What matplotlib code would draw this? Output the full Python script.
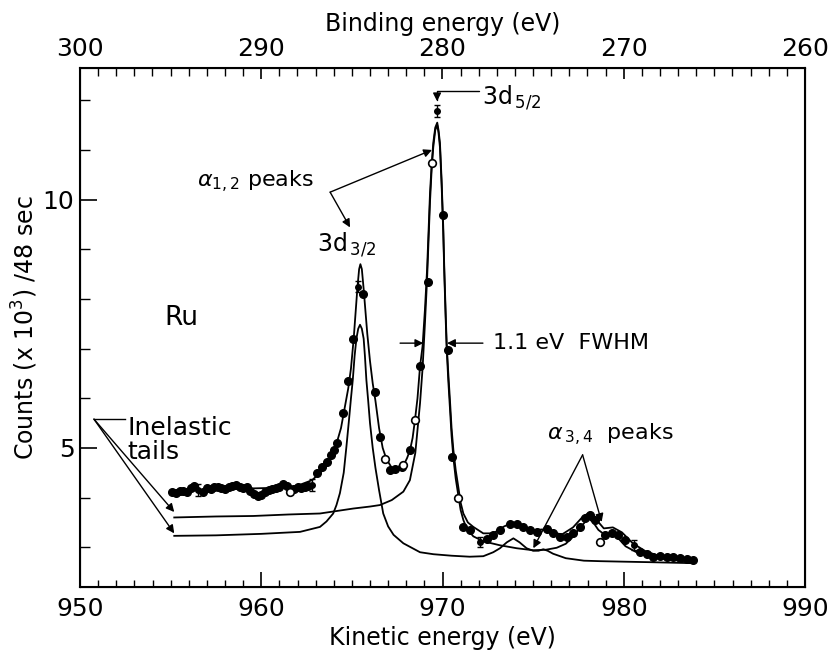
import matplotlib
matplotlib.use("Agg")
import matplotlib.pyplot as plt
from matplotlib.ticker import MultipleLocator

plt.rcParams['font.family'] = ['DejaVu Sans']
plt.rcParams['mathtext.fontset'] = 'dejavusans'

# measured points (filled circles)
ke_dots = [955.1, 955.3, 955.5, 955.7, 955.9, 956.1, 956.3, 956.8, 957.0, 957.2,
           957.4, 957.6, 957.8, 958.0, 958.2, 958.4, 958.6, 958.8, 959.0, 959.2,
           959.4, 959.6, 959.8, 960.0, 960.2, 960.4, 960.6, 960.8, 961.0, 961.2,
           961.4, 961.8, 962.0, 962.2, 962.4, 962.6, 963.1, 963.35, 963.6, 963.85,
           964.0, 964.2, 964.5, 964.8, 965.05, 965.6, 966.28, 966.55, 967.1, 967.38,
           967.75, 968.21, 968.76, 969.18, 970.01, 970.32, 970.51, 971.15, 971.52, 972.44,
           972.8, 973.17, 973.72, 974.09, 974.46, 974.83, 975.2, 975.75, 976.12, 976.49,
           976.86, 977.22, 977.59, 977.87, 978.14, 978.42, 978.97, 979.34, 979.71, 980.08,
           980.9, 981.27, 981.64, 982.0, 982.37, 982.74, 983.1, 983.47, 983.84]
cnt_dots = [4.12, 4.10, 4.13, 4.14, 4.12, 4.20, 4.24, 4.12, 4.20, 4.18,
            4.21, 4.22, 4.20, 4.18, 4.22, 4.24, 4.25, 4.22, 4.19, 4.21,
            4.14, 4.08, 4.03, 4.06, 4.12, 4.15, 4.18, 4.20, 4.22, 4.27,
            4.24, 4.18, 4.22, 4.19, 4.21, 4.24, 4.50, 4.62, 4.72, 4.85,
            4.96, 5.10, 5.70, 6.35, 7.20, 8.10, 6.13, 5.23, 4.56, 4.57,
            4.61, 4.96, 6.64, 8.35, 9.70, 6.98, 4.82, 3.41, 3.34, 3.17,
            3.24, 3.34, 3.47, 3.46, 3.41, 3.34, 3.31, 3.36, 3.28, 3.21,
            3.20, 3.28, 3.41, 3.58, 3.65, 3.55, 3.24, 3.28, 3.24, 3.14,
            2.91, 2.87, 2.81, 2.82, 2.81, 2.80, 2.78, 2.76, 2.75]

# open circles
ke_open = [961.6, 966.83, 967.84, 968.48, 969.44, 970.88, 978.7]
cnt_open = [4.12, 4.78, 4.66, 5.56, 10.74, 3.99, 3.11]

# points drawn with error bars
ke_err = [956.5, 962.8, 965.35, 969.71, 972.07, 980.54]
cnt_err = [4.16, 4.26, 8.25, 11.78, 3.10, 3.04]
err = [0.12, 0.12, 0.12, 0.12, 0.10, 0.10]

# fitted sum
ke_fit = [955.2, 957.0, 959.0, 961.0, 962.0, 962.8, 963.4, 963.8, 964.1, 964.4,
          964.6, 964.8, 964.95, 965.1, 965.2, 965.3, 965.4, 965.47, 965.55, 965.65,
          965.75, 965.85, 966.0, 966.15, 966.3, 966.5, 966.7, 966.9, 967.2, 967.5,
          967.84, 968.05, 968.21, 968.35, 968.48, 968.62, 968.76, 968.9, 969.03, 969.15,
          969.31, 969.4, 969.49, 969.6, 969.71, 969.78, 969.86, 969.95, 970.04, 970.1,
          970.17, 970.23, 970.32, 970.41, 970.5, 970.6, 970.73, 970.87, 971.0, 971.15,
          971.4, 971.7, 972.25, 972.8, 973.4, 973.9, 974.4, 974.9, 975.5, 976.0,
          976.6, 977.2, 977.7, 978.1, 978.5, 978.9, 979.4, 979.9, 980.5, 981.2,
          982.0, 983.0, 983.9]
cnt_fit = [4.12, 4.16, 4.18, 4.20, 4.24, 4.35, 4.55, 4.78, 5.02, 5.40,
           5.80, 6.20, 6.60, 7.20, 7.70, 8.20, 8.60, 8.70, 8.60, 8.20,
           7.75, 7.30, 6.75, 6.30, 5.95, 5.40, 5.00, 4.78, 4.60, 4.56,
           4.64, 4.80, 4.96, 5.20, 5.56, 6.00, 6.64, 7.05, 7.78, 8.60,
           10.13, 10.70, 11.14, 11.45, 11.55, 11.40, 11.14, 10.40, 9.46, 8.60,
           7.78, 7.11, 6.50, 5.97, 5.40, 4.96, 4.55, 4.22, 3.90, 3.68,
           3.50, 3.41, 3.28, 3.28, 3.42, 3.50, 3.42, 3.33, 3.36, 3.30,
           3.26, 3.40, 3.60, 3.70, 3.55, 3.38, 3.40, 3.30, 3.08, 2.92,
           2.82, 2.76, 2.73]

# 3d5/2 line with its inelastic tail
ke_d52 = [955.2, 957.5, 959.56, 961.5, 963.24, 965.08, 966.0, 966.55, 967.2, 967.84,
          968.2, 968.5, 968.76, 968.9, 969.03, 969.15, 969.31, 969.4, 969.49, 969.6,
          969.71, 969.78, 969.86, 969.95, 970.04, 970.1, 970.17, 970.23, 970.32, 970.41,
          970.5, 970.6, 970.73, 970.87, 971.0, 971.15, 971.33, 971.7, 972.25, 973.17,
          974.1, 975.0, 975.7, 976.3, 976.8, 977.2, 977.6, 978.04, 978.3, 978.6,
          978.85, 979.1, 979.4, 979.7, 980.1, 980.7, 981.4, 982.5, 983.8]
cnt_d52 = [3.60, 3.62, 3.63, 3.66, 3.68, 3.78, 3.82, 3.85, 3.95, 4.12,
           4.35, 4.90, 5.90, 6.60, 7.50, 8.40, 9.95, 10.60, 11.05, 11.40,
           11.50, 11.35, 11.05, 10.30, 9.35, 8.50, 7.65, 7.00, 6.35, 5.80,
           5.25, 4.80, 4.38, 4.05, 3.75, 3.55, 3.38, 3.22, 3.12, 3.04,
           2.98, 2.94, 2.95, 2.99, 3.07, 3.21, 3.40, 3.58, 3.51, 3.35,
           3.28, 3.24, 3.25, 3.18, 3.02, 2.90, 2.82, 2.75, 2.71]

# 3d3/2 line with its inelastic tail
ke_d32 = [955.2, 957.5, 960.0, 962.14, 963.24, 963.6, 963.97, 964.15, 964.34, 964.55,
          964.7, 964.85, 964.95, 965.05, 965.15, 965.25, 965.35, 965.45, 965.55, 965.65,
          965.72, 965.8, 965.9, 966.0, 966.15, 966.3, 966.5, 966.73, 967.0, 967.3,
          967.84, 968.76, 969.5, 970.5, 971.5, 972.25, 972.8, 973.17, 973.55, 973.91,
          974.25, 974.64, 975.0, 975.3, 975.56, 975.8, 976.1, 976.8, 977.8, 978.7,
          980.0, 981.4, 983.8]
cnt_d32 = [3.23, 3.24, 3.27, 3.31, 3.41, 3.52, 3.68, 3.85, 4.09, 4.50,
           5.03, 5.60, 6.00, 6.37, 6.85, 7.20, 7.40, 7.48, 7.40, 7.20,
           6.85, 6.37, 5.95, 5.50, 5.00, 4.60, 4.15, 3.68, 3.42, 3.25,
           3.08, 2.90, 2.86, 2.83, 2.81, 2.82, 2.90, 2.98, 3.10, 3.18,
           3.10, 2.98, 2.93, 2.93, 2.96, 2.93, 2.87, 2.78, 2.73, 2.72,
           2.71, 2.70, 2.68]

fig = plt.figure(figsize=(8.33, 6.59), dpi=100)
ax = fig.add_axes([80 / 833, 1 - 587 / 659, 725 / 833, 519 / 659])

lw = 1.3
ax.plot(ke_d32, cnt_d32, color='black', lw=lw)
ax.plot(ke_d52, cnt_d52, color='black', lw=lw)
ax.plot(ke_fit, cnt_fit, color='black', lw=lw)
ax.plot(ke_dots, cnt_dots, 'o', ms=5.5, mfc='black', mec='black', zorder=3)
ax.plot(ke_open, cnt_open, 'o', ms=5.5, mfc='white', mec='black', mew=1.2, zorder=3)
ax.errorbar(ke_err, cnt_err, yerr=err, fmt='o', ms=4, color='black',
            capsize=2.5, elinewidth=1, capthick=1, zorder=3)

ax.set_xlim(950, 990)
ax.set_ylim(2.2, 12.65)
ax.xaxis.set_major_locator(MultipleLocator(10))
ax.xaxis.set_minor_locator(MultipleLocator(1))
ax.yaxis.set_major_locator(MultipleLocator(5))
ax.yaxis.set_minor_locator(MultipleLocator(1))
ax.tick_params(axis='x', which='major', direction='in', length=11, width=1.2,
               labelsize=18, pad=7, top=False)
ax.tick_params(axis='x', which='minor', direction='in', length=5, width=1, top=False)
ax.tick_params(axis='y', which='major', direction='in', length=12, width=1.2,
               labelsize=18, pad=4, right=False)
ax.tick_params(axis='y', which='minor', direction='in', length=7, width=1, right=False)
for s in ax.spines.values():
    s.set_linewidth(1.5)

ax.set_xlabel('Kinetic energy (eV)', fontsize=17, labelpad=4)
ax.set_ylabel(r'Counts (x 10$^3$) /48 sec', fontsize=17, labelpad=2)

# binding energy scale on top
top = ax.twiny()
top.set_xlim(300, 260)
top.xaxis.set_major_locator(MultipleLocator(10))
top.xaxis.set_minor_locator(MultipleLocator(1))
top.tick_params(axis='x', which='major', direction='in', length=8, width=1.2,
                labelsize=18, pad=5)
top.tick_params(axis='x', which='minor', direction='in', length=6, width=1)
top.set_xlabel('Binding energy (eV)', fontsize=17, labelpad=4)

# annotations
arrow = dict(arrowstyle='-|>', color='black', lw=1, shrinkA=0, shrinkB=0,
             mutation_scale=12)
ax.text(955.6, 7.62, 'Ru', fontsize=19, ha='center', va='center')

ax.text(972.18, 11.92, r'3d$_{\,5/2}$', fontsize=17, va='baseline')
ax.annotate('', xy=(969.7, 11.98), xytext=(972.0, 12.18),
            arrowprops=dict(arrow, connectionstyle='angle,angleA=180,angleB=90,rad=0'))

ax.text(963.1, 8.95, r'3d$_{\,3/2}$', fontsize=17, va='baseline')

ax.text(956.45, 10.35, r'$\alpha_{1,2}$ peaks', fontsize=16, va='center')
ax.annotate('', xy=(969.42, 11.0), xytext=(963.8, 10.15), arrowprops=arrow)
ax.annotate('', xy=(964.9, 9.44), xytext=(963.8, 10.15), arrowprops=arrow)

ax.annotate('', xy=(968.94, 7.11), xytext=(967.66, 7.11), arrowprops=arrow)
ax.annotate('', xy=(970.25, 7.11), xytext=(972.23, 7.11), arrowprops=arrow)
ax.text(972.79, 7.11, '1.1 eV  FWHM', fontsize=16, va='center')

ax.text(975.77, 5.26, r'$\alpha_{\,3,4}$  peaks', fontsize=16, va='center')
ax.annotate('', xy=(975.01, 2.98), xytext=(977.73, 4.86), arrowprops=arrow)
ax.annotate('', xy=(978.78, 3.51), xytext=(977.73, 4.86), arrowprops=arrow)

ax.plot([950.77, 952.48], [5.58, 5.58], color='black', lw=1)
ax.annotate('', xy=(955.2, 3.71), xytext=(950.77, 5.58), arrowprops=arrow)
ax.annotate('', xy=(955.2, 3.28), xytext=(950.77, 5.58), arrowprops=arrow)
ax.text(952.6, 5.4, 'Inelastic', fontsize=18, va='center')
ax.text(952.6, 4.92, 'tails', fontsize=18, va='center')

fig.savefig('out.png', dpi=100)
